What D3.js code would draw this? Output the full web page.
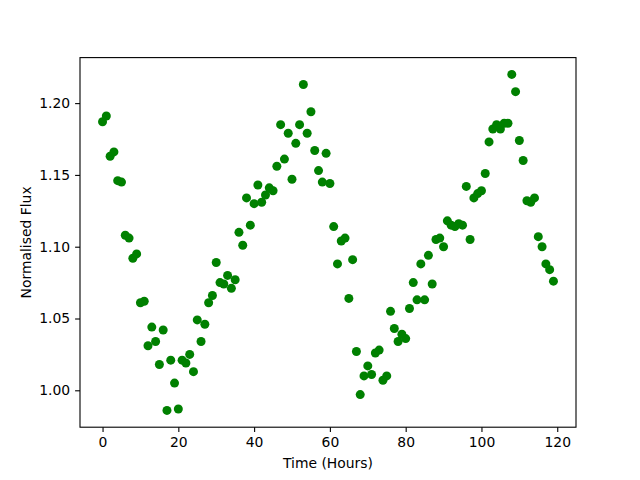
<!DOCTYPE html>
<html>
<head>
<meta charset="utf-8">
<script src="https://cdn.jsdelivr.net/npm/d3@7"></script>
<style>
  body { margin: 0; background: #fff; }
  svg text { font-family: "DejaVu Sans", sans-serif; fill: #000; }
</style>
</head>
<body>
<div id="chart"></div>
<script>
// hours 0..119, one reading per hour
const hours = d3.range(0, 120);
const flux = [
  1.187, 1.191, 1.163, 1.166, 1.146, 1.145, 1.108, 1.106, 1.092, 1.095,
  1.061, 1.062, 1.031, 1.044, 1.034, 1.018, 1.042, 0.986, 1.021, 1.005,
  0.987, 1.021, 1.019, 1.025, 1.013, 1.049, 1.034, 1.046, 1.061, 1.066,
  1.089, 1.075, 1.074, 1.080, 1.071, 1.077, 1.110, 1.101, 1.134, 1.115,
  1.130, 1.143, 1.131, 1.136, 1.141, 1.139, 1.156, 1.185, 1.161, 1.179,
  1.147, 1.172, 1.185, 1.213, 1.179, 1.194, 1.167, 1.153, 1.145, 1.165,
  1.144, 1.114, 1.088, 1.104, 1.106, 1.064, 1.091, 1.027, 0.997, 1.010,
  1.017, 1.011, 1.026, 1.028, 1.007, 1.010, 1.055, 1.043, 1.034, 1.039,
  1.036, 1.057, 1.075, 1.063, 1.088, 1.063, 1.094, 1.074, 1.105, 1.106,
  1.100, 1.118, 1.115, 1.114, 1.116, 1.115, 1.142, 1.105, 1.134, 1.137,
  1.139, 1.151, 1.173, 1.182, 1.185, 1.182, 1.186, 1.186, 1.220, 1.208,
  1.174, 1.160, 1.132, 1.131, 1.134, 1.107, 1.100, 1.088, 1.084, 1.076
];
const xTicks = [0, 20, 40, 60, 80, 100, 120];
const yTicks = [1.00, 1.05, 1.10, 1.15, 1.20];

const width = 640, height = 480;
const margin = { top: 57.6, right: 64, bottom: 52.8, left: 80 };
const w = width - margin.left - margin.right;
const h = height - margin.top - margin.bottom;

const svg = d3.select('#chart').append('svg')
  .attr('width', width)
  .attr('height', height);

const g = svg.append('g')
  .attr('transform', `translate(${margin.left}, ${margin.top})`);

// matplotlib style 5% padding
const pad = (lo, hi) => { const d = (hi - lo) * 0.05; return [lo - d, hi + d]; };
const x = d3.scaleLinear().domain(pad(d3.min(hours), d3.max(hours))).range([0, w]);
const y = d3.scaleLinear().domain(pad(d3.min(flux), d3.max(flux))).range([h, 0]);

const data = hours.map((t, i) => ({ t: t, f: flux[i] }));

g.append('g')
  .selectAll('circle')
  .data(data)
  .join('circle')
  .attr('cx', d => x(d.t))
  .attr('cy', d => y(d.f))
  .attr('r', 4.5)
  .attr('fill', '#008000');

const xAxis = g.append('g')
  .attr('transform', `translate(0, ${h})`)
  .call(d3.axisBottom(x).tickValues(xTicks).tickSize(4.9).tickPadding(4.9).tickFormat(d3.format('d')));

const yAxis = g.append('g')
  .call(d3.axisLeft(y).tickValues(yTicks).tickSize(4.9).tickPadding(4.9).tickFormat(d3.format('.2f')));

[xAxis, yAxis].forEach(a => {
  a.select('.domain').remove();
  a.selectAll('line').attr('stroke', '#000').attr('stroke-width', 1.1);
  a.selectAll('text').style('font-size', '13.9px');
});

g.append('rect')
  .attr('width', w)
  .attr('height', h)
  .attr('fill', 'none')
  .attr('stroke', '#000')
  .attr('stroke-width', 1.1);

svg.append('text')
  .attr('x', margin.left + w / 2)
  .attr('y', 468)
  .attr('text-anchor', 'middle')
  .style('font-size', '13.9px')
  .text('Time (Hours)');

svg.append('text')
  .attr('transform', `translate(31, ${margin.top + h / 2}) rotate(-90)`)
  .attr('text-anchor', 'middle')
  .style('font-size', '13.9px')
  .text('Normalised Flux');
</script>
</body>
</html>
